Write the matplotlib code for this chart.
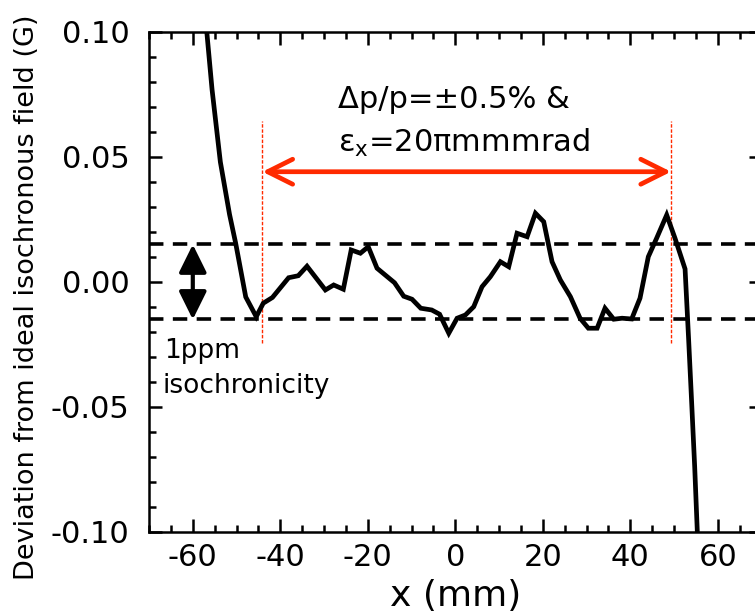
import numpy as np
import matplotlib
matplotlib.use("Agg")
import matplotlib.pyplot as plt
from matplotlib.ticker import MultipleLocator

plt.rcParams["axes.unicode_minus"] = False

# deviation curve (x in mm, deviation in G)
x_mm = [-56.8, -55.6, -53.7, -51.6, -50.2, -47.9, -45.5, -43.9, -41.8, -38.1,
        -35.9, -33.9, -29.7, -27.8, -25.6, -23.8, -21.7, -19.9, -17.9, -13.9,
        -11.8, -9.9, -7.9, -5.4, -3.6, -1.5, 0.4, 2.3, 4.2, 6.1,
        8.0, 10.3, 12.2, 14.1, 16.4, 18.3, 20.2, 22.1, 24.0, 26.3,
        28.5, 30.4, 32.4, 34.2, 36.2, 38.1, 40.3, 42.2, 44.1, 46.0,
        48.3, 50.2, 52.5, 53.3, 54.0, 54.7, 55.3]
dev_G = [0.100, 0.077, 0.048, 0.027, 0.0155, -0.006, -0.0139, -0.0085, -0.0062, 0.0017,
         0.0025, 0.0063, -0.0032, -0.0012, -0.0029, 0.0128, 0.0115, 0.0141, 0.0055, -0.0003,
         -0.0057, -0.0069, -0.0105, -0.0112, -0.0129, -0.0205, -0.0145, -0.0132, -0.0099, -0.0019,
         0.0021, 0.0081, 0.0061, 0.0195, 0.0181, 0.0275, 0.0241, 0.0081, 0.0008, -0.0059,
         -0.0145, -0.0185, -0.0185, -0.0105, -0.0149, -0.0145, -0.0148, -0.0065, 0.0101, 0.0175,
         0.0268, 0.0175, 0.0052, -0.0225, -0.048, -0.074, -0.100]

ppm_band = [-0.015, 0.015]   # 1 ppm isochronicity
acc_range = [-44.1, 49.3]    # dp/p = +-0.5 %, emittance 20 pi mm mrad

fig = plt.figure(figsize=(7.55, 6.15), dpi=100)
ax = fig.add_axes([0.1974, 0.135, 0.8114, 0.813])

ax.plot(x_mm, dev_G, color="black", lw=3.4, solid_joinstyle="miter", zorder=3)

for yb in ppm_band:
    ax.axhline(yb, color="black", lw=2.6, dashes=(4, 2.6), zorder=2)

red = "#ff2a00"
for xr in acc_range:
    ax.plot([xr, xr], [-0.0245, 0.0645], color=red, lw=1.0, dashes=(2.5, 1.2), zorder=2)

ax.annotate("", xy=(acc_range[0], 0.0441), xytext=(acc_range[1], 0.0441),
            arrowprops=dict(arrowstyle="<->,head_length=0.9,head_width=0.45",
                            color=red, lw=3.4, shrinkA=0, shrinkB=0,
                            mutation_scale=20))
ax.annotate("", xy=(-60, ppm_band[0]), xytext=(-60, ppm_band[1]),
            arrowprops=dict(arrowstyle="<|-|>,head_length=0.85,head_width=0.42",
                            color="black", lw=3.0, shrinkA=0, shrinkB=0,
                            mutation_scale=20))

ax.text(-26.9, 0.0696, "\u0394p/p=\u00b10.5% &", fontsize=22, va="baseline")
ax.text(-26.9, 0.052, "\u03b5$_\\mathregular{x}$=20\u03c0mmmrad", fontsize=22, va="baseline")
ax.text(-66.5, -0.0305, "1ppm", fontsize=19, va="baseline")
ax.text(-67.0, -0.0445, "isochronicity", fontsize=19, va="baseline")

ax.set_xlim(-70, 70)
ax.set_ylim(-0.10, 0.10)
ax.xaxis.set_major_locator(MultipleLocator(20))
ax.xaxis.set_minor_locator(MultipleLocator(5))
ax.yaxis.set_major_locator(MultipleLocator(0.05))
ax.yaxis.set_minor_locator(MultipleLocator(0.01))
ax.yaxis.set_major_formatter(plt.FormatStrFormatter("%.2f"))

ax.tick_params(which="both", direction="in", top=True, right=True, width=1.8,
               labelsize=22)
ax.tick_params(which="major", length=9.5)
ax.tick_params(which="minor", length=5)
ax.tick_params(axis="y", which="minor", right=False)
ax.tick_params(axis="y", pad=14)
ax.tick_params(axis="x", pad=8)
for sp in ax.spines.values():
    sp.set_linewidth(1.8)

ax.set_xlabel("x (mm)", fontsize=26, labelpad=5)
ax.set_ylabel("Deviation from ideal isochronous field (G)", fontsize=19.5)
ax.yaxis.set_label_coords(-0.178, 0.47)

fig.savefig("out.png", dpi=100)
